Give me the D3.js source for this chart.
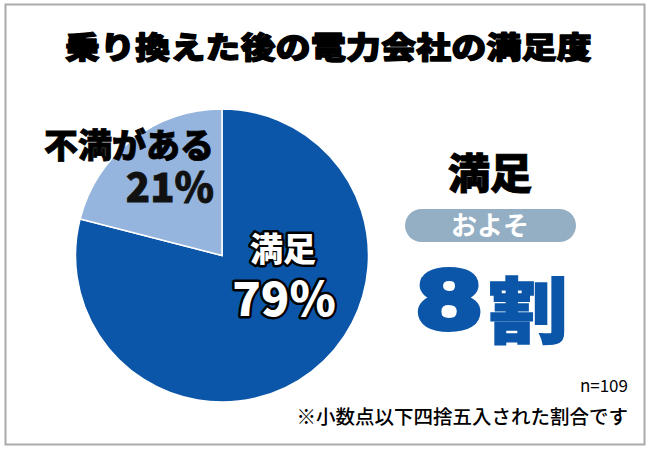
<!DOCTYPE html>
<html><head><meta charset="utf-8">
<script src="https://cdn.jsdelivr.net/npm/d3@7"></script>
<style>body{margin:0;background:#fff}svg{display:block}</style>
</head><body>
<script>
const title = "乗り換えた後の電力会社の満足度";
const categories = ["満足", "不満がある"];
const values = [79, 21];
const sampleNote = "n=109";
const footNote = "※小数点以下四捨五入された割合です";
const summaryLabel = "満足";
const summaryPill = "およそ";
const summaryValue = "8";
const summaryUnit = "割";
const colors = ["#0b56a8", "#95b5de"];

const W = 651, H = 451;
const svg = d3.select("body").append("svg").attr("width", W).attr("height", H);
const font = "'Noto Sans CJK JP', 'Noto Sans', sans-serif";

svg.append("rect").attr("x", 5.5).attr("y", 4.5).attr("width", 639).attr("height", 440)
  .attr("fill", "#fff").attr("stroke", "#aaaaaa").attr("stroke-width", 2);

svg.append("text").attr("transform", "translate(65,58) scale(1.16,1)")
  .attr("font-family", font).attr("font-weight", 900).attr("font-size", 30)
  .attr("letter-spacing", 0.3)
  .attr("fill", "#000").attr("stroke", "#000").attr("stroke-width", 1.4)
  .attr("stroke-linejoin", "round").text(title);

const cx = 222, cy = 255.5, r = 146.5;
const pie = d3.pie().sort(null).value(d => d)(values);
const arc = d3.arc().innerRadius(0).outerRadius(r);
const g = svg.append("g").attr("transform", `translate(${cx},${cy})`);
g.selectAll("path").data(pie).join("path")
  .attr("d", arc).attr("fill", (d, i) => colors[i])
  .attr("stroke", "#fff").attr("stroke-width", 1.5);

// Labels
svg.append("text").attr("x", 214).attr("y", 158).attr("text-anchor", "end")
  .attr("font-family", font).attr("font-weight", 900).attr("font-size", 34)
  .attr("fill", "#000").attr("stroke", "#000").attr("stroke-width", 0.8).text(categories[1]);
svg.append("text").attr("x", 214).attr("y", 202).attr("text-anchor", "end")
  .attr("font-family", font).attr("font-weight", 900).attr("font-size", 40)
  .attr("fill", "#111").attr("stroke", "#111").attr("stroke-width", 0.8).text(values[1] + "%");

function outlined(x, y, size, txt) {
  svg.append("text").attr("x", x).attr("y", y).attr("text-anchor", "middle")
    .attr("font-family", font).attr("font-weight", 900).attr("font-size", size)
    .attr("fill", "#fff").attr("stroke", "#000").attr("stroke-width", 5)
    .attr("stroke-linejoin", "round").attr("paint-order", "stroke").text(txt);
}
outlined(283, 261, 33, categories[0]);
outlined(284, 316, 47, values[0] + "%");

// Right summary
svg.append("text").attr("x", 490).attr("y", 189).attr("text-anchor", "middle")
  .attr("font-family", font).attr("font-weight", 900).attr("font-size", 42)
  .attr("fill", "#000").attr("stroke", "#000").attr("stroke-width", 1).text(summaryLabel);
svg.append("rect").attr("x", 405).attr("y", 209).attr("width", 171).attr("height", 33)
  .attr("rx", 16.5).attr("fill", "#94afc3");
svg.append("text").attr("x", 490).attr("y", 235).attr("text-anchor", "middle")
  .attr("font-family", font).attr("font-weight", 700).attr("font-size", 26)
  .attr("fill", "#fff").text(summaryPill);
svg.append("text").attr("transform", "translate(449,328) scale(1.32,1)")
  .attr("text-anchor", "middle")
  .attr("font-family", "'Liberation Sans', Arial, sans-serif").attr("font-weight", 700)
  .attr("font-size", 84).attr("fill", "#0b56a8")
  .attr("stroke", "#0b56a8").attr("stroke-width", 6).attr("stroke-linejoin", "round")
  .text(summaryValue);
svg.append("text").attr("transform", "translate(528,337) scale(1.1,1)")
  .attr("text-anchor", "middle")
  .attr("font-family", font).attr("font-weight", 900)
  .attr("font-size", 72).attr("fill", "#0b56a8")
  .attr("stroke", "#0b56a8").attr("stroke-width", 1.5).text(summaryUnit);

svg.append("text").attr("x", 628).attr("y", 392).attr("text-anchor", "end")
  .attr("font-family", font).attr("font-weight", 400).attr("font-size", 17)
  .attr("fill", "#000").text(sampleNote);
svg.append("text").attr("x", 628).attr("y", 424).attr("text-anchor", "end")
  .attr("font-family", font).attr("font-weight", 500).attr("font-size", 19.5)
  .attr("fill", "#000").text(footNote);
</script>
</body></html>
